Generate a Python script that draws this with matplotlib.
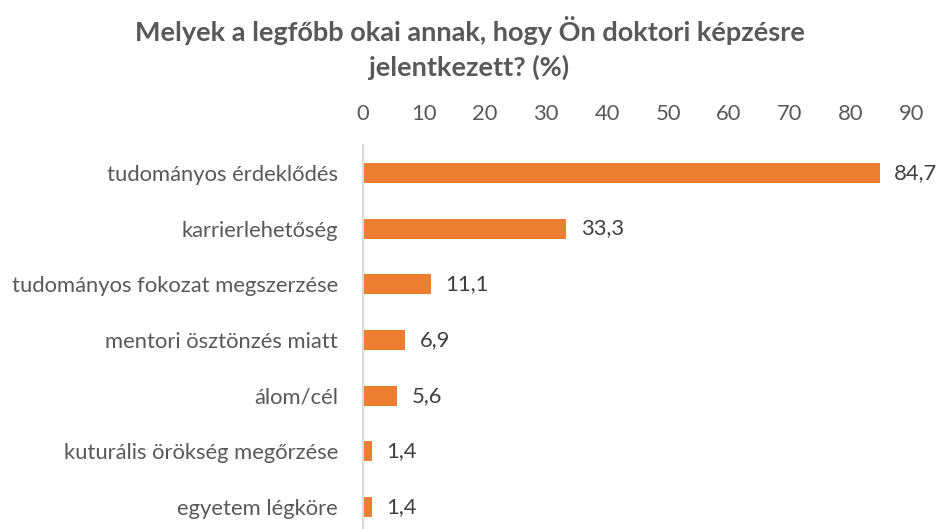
import matplotlib.pyplot as plt

# adatok
kategoriak = ['tudományos érdeklődés', 'karrierlehetőség', 'tudományos fokozat megszerzése',
              'mentori ösztönzés miatt', 'álom/cél', 'kuturális örökség megőrzése',
              'egyetem légköre']
ertekek = [84.7, 33.3, 11.1, 6.9, 5.6, 1.4, 1.4]
x_tickek = [0, 10, 20, 30, 40, 50, 60, 70, 80, 90]

plt.rcParams['font.family'] = ['Lato', 'DejaVu Sans']

fig = plt.figure(figsize=(9.39, 5.29), dpi=100)
ax = fig.add_axes([363 / 939, 1 - 535 / 529, (912 - 363) / 939, (535 - 145) / 529])

y = range(len(kategoriak))
ax.barh(y, ertekek, height=0.36, color='#ED7D31')
for i, v in enumerate(ertekek):
    ax.text(v + 2.4, i, f'{v:.1f}'.replace('.', ','), va='center', ha='left',
            fontsize=15.8, color='#404040')

ax.set_xlim(0, 90)
ax.set_ylim(len(kategoriak) - 0.5, -0.5)
ax.set_yticks(list(y))
ax.set_yticklabels(kategoriak, fontsize=15.8, color='#595959')
ax.set_xticks(x_tickek)
ax.xaxis.tick_top()
ax.tick_params(axis='x', labelsize=15.8, colors='#595959', length=0, pad=15)
ax.tick_params(axis='y', length=0, pad=18)

for s in ['top', 'right', 'bottom']:
    ax.spines[s].set_visible(False)
ax.spines['left'].set_color('#D9D9D9')
ax.spines['left'].set_linewidth(1.5)

fig.text(0.5, 1 - 48 / 529, 'Melyek a legfőbb okai annak, hogy Ön doktori képzésre\njelentkezett? (%)',
         ha='center', va='center', fontsize=19.5, fontweight='bold', color='#595959',
         linespacing=1.42)

fig.savefig('out.png', dpi=100)
